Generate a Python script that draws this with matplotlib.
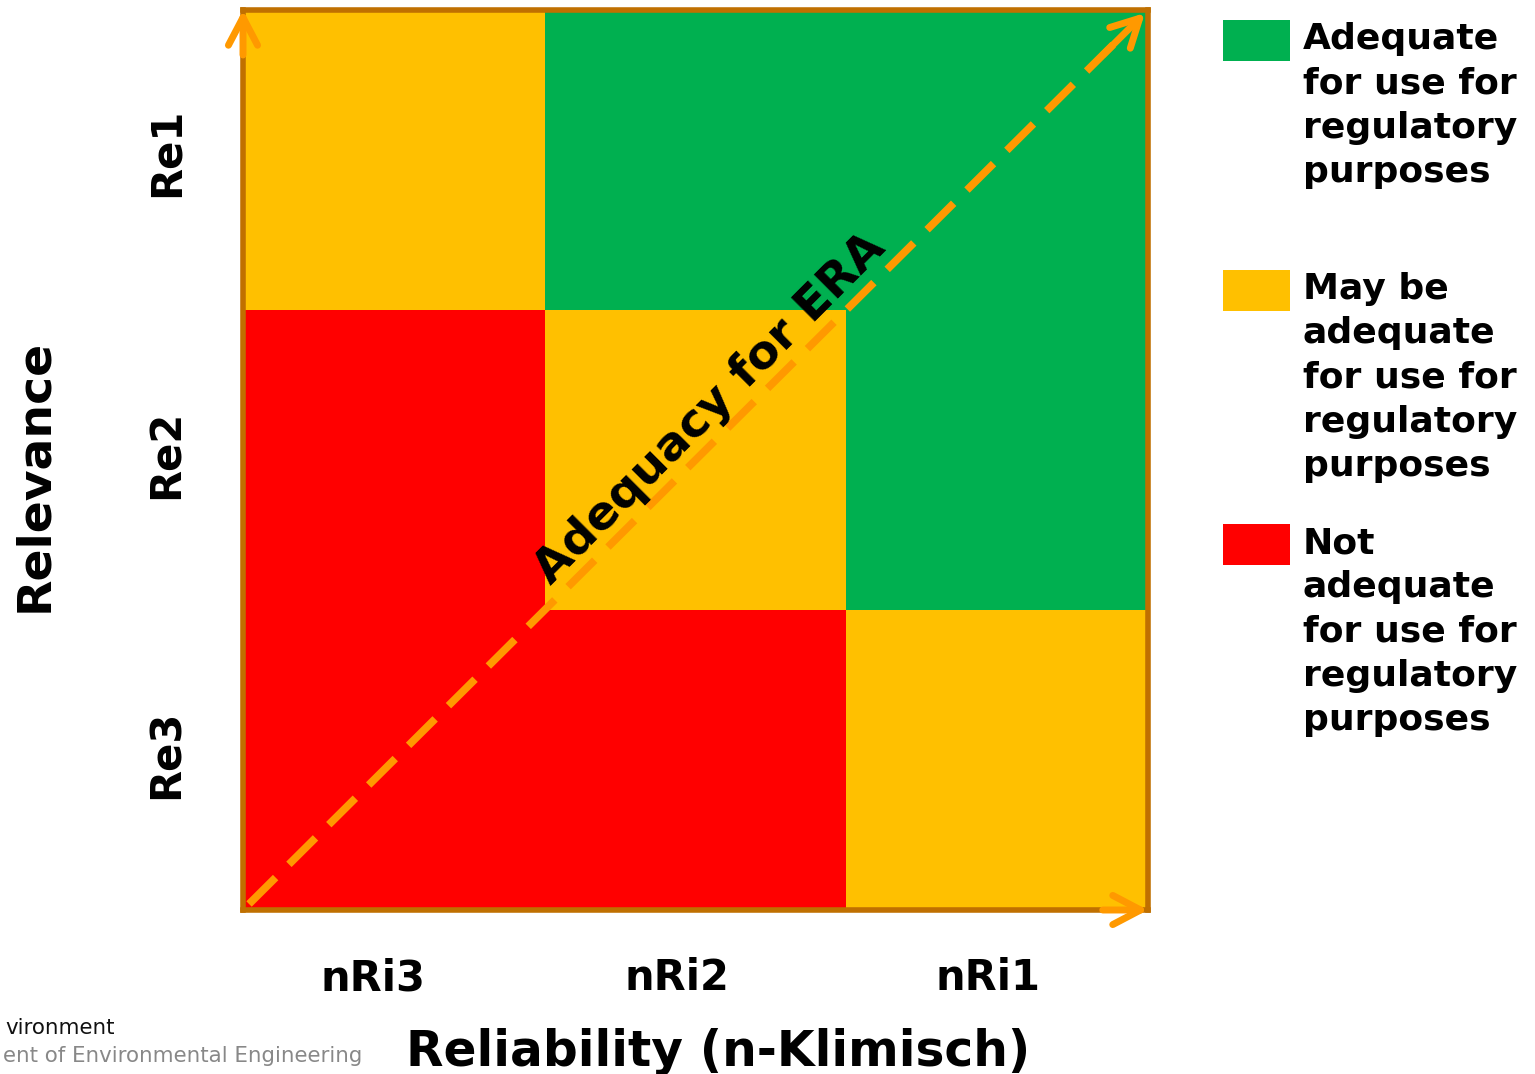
import numpy as np
import matplotlib
matplotlib.use('Agg')
from matplotlib import pyplot as plt
from matplotlib.colors import ListedColormap
from matplotlib.patches import Rectangle

plt.rcParams['font.family'] = ['DejaVu Sans']
plt.rcParams['lines.scale_dashes'] = False

# Data
reliability = ['nRi3', 'nRi2', 'nRi1']
relevance = ['Re3', 'Re2', 'Re1']          # bottom to top
# 0 = not adequate, 1 = may be adequate, 2 = adequate
adequacy = np.array([[0, 0, 1],            # Re3
                     [0, 1, 2],            # Re2
                     [1, 2, 2]])           # Re1
legend_labels = ['Adequate\nfor use for\nregulatory\npurposes',
                 'May be\nadequate\nfor use for\nregulatory\npurposes',
                 'Not\nadequate\nfor use for\nregulatory\npurposes']
legend_codes = [2, 1, 0]

colors = ['#FF0000', '#FFC000', '#00B050']
orange = '#FF9900'
border = '#C07000'

W, H = 1535, 1074
fig = plt.figure(figsize=(W / 100, H / 100), dpi=100)


def fx(px):
    return px / W


def fy(py):
    return 1 - py / H


ax = fig.add_axes([fx(243), fy(910), fx(1148) - fx(243), fy(10) - fy(910)])
ax.pcolormesh(np.arange(4), np.arange(4), adequacy,
              cmap=ListedColormap(colors), vmin=-0.5, vmax=2.5)
ax.set_xlim(0, 3)
ax.set_ylim(0, 3)
for s in ax.spines.values():
    s.set_color(border)
    s.set_linewidth(4)

ax.set_xticks([0.43, 1.44, 2.47])
ax.set_xticklabels(reliability, fontsize=30, fontweight='bold')
ax.set_yticks([0.52, 1.52, 2.525])
ax.set_yticklabels(relevance, fontsize=30, fontweight='bold', rotation=90, va='center')
ax.tick_params(axis='x', length=0, pad=34)
ax.tick_params(axis='y', length=0, pad=40)

fig.text(fx(718), fy(1066), 'Reliability (n-Klimisch)', fontsize=35, fontweight='bold',
         ha='center', va='baseline')
fig.text(fx(35), fy(475), 'Relevance', fontsize=34, fontweight='bold',
         ha='center', va='center', rotation=90)

# diagonal dashed arrow
ax.plot([0.02, 2.92], [0.02, 2.92], color=orange, lw=5.5, dashes=(27, 13.5),
        solid_capstyle='butt', clip_on=False, zorder=3)
head = dict(arrowstyle='->,head_length=2.0,head_width=1.05', color=orange, lw=5,
            capstyle='round', joinstyle='round', shrinkA=0, shrinkB=0)
ax.annotate('', xy=(2.99, 2.99), xytext=(2.85, 2.85), arrowprops=head,
            annotation_clip=False, zorder=4)
ax.annotate('', xy=(0.0, 3.0), xytext=(0.0, 2.85), arrowprops=head,
            annotation_clip=False, zorder=4)
ax.annotate('', xy=(3.0, 0.0), xytext=(2.85, 0.0), arrowprops=head,
            annotation_clip=False, zorder=4)

ax.text(1.55, 1.67, 'Adequacy for ERA', rotation=45, fontsize=34, fontweight='bold',
        ha='center', va='center', rotation_mode='anchor', zorder=5)

# legend
box_tops = [20, 270, 524]
for code, label, top in zip(legend_codes, legend_labels, box_tops):
    fig.patches.append(Rectangle((fx(1223), fy(top + 41)), fx(67), fy(top) - fy(top + 41),
                                 transform=fig.transFigure, facecolor=colors[code],
                                 edgecolor='none'))
    fig.text(fx(1303), fy(top + 2), label, fontsize=26, fontweight='bold',
             ha='left', va='top', linespacing=1.38)

# footer logo text (cropped in the original)
fig.text(fx(115), fy(1034), 'vironment', fontsize=15.4, ha='right', va='baseline', color='#111111')
fig.text(fx(362), fy(1062), 'ent of Environmental Engineering', fontsize=15.4, ha='right',
         va='baseline', color='#888888')

fig.savefig('out.png', dpi=100)
